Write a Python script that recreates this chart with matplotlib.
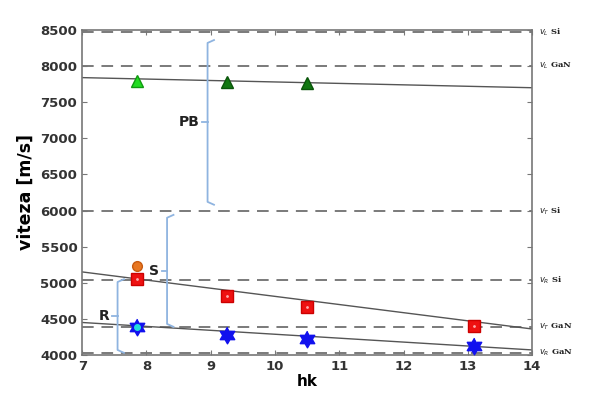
import numpy as np
import matplotlib
matplotlib.use('Agg')
import matplotlib.pyplot as plt

# reference velocities (dashed levels) and their labels
ref_levels = [8470, 8000, 5990, 5040, 4390, 4030]
ref_labels = [r'$v_L$ Si', r'$v_L$ GaN', r'$v_T$ Si', r'$v_R$ Si', r'$v_T$ GaN', r'$v_R$ GaN']

# fitted trend lines (end points at hk=7 and hk=14)
fit_x = [7, 14]
fit_pb = [7840, 7700]
fit_s = [5150, 4360]
fit_r = [4450, 4070]

# measured points
pb_x = [7.85, 9.25, 10.5]
pb_y = [7800, 7780, 7760]
s_x = [7.85, 9.25, 10.5, 13.1]
s_y = [5050, 4810, 4660, 4400]
r_x = [7.85, 9.25, 10.5, 13.1]
r_y = [4390, 4280, 4220, 4120]
o_x = [7.85]
o_y = [5230]

# braces: (x, y_lo, y_hi, label)
braces = [(8.95, 6080, 8360, 'PB'), (8.32, 4390, 5940, 'S'), (7.55, 4030, 5050, 'R')]

# six-pointed star marker shape
ang = np.radians(90 + 30 * np.arange(12))
rad = np.where(np.arange(12) % 2 == 0, 1.0, 0.577)
hexagram = list(zip(rad * np.cos(ang), rad * np.sin(ang)))

fig = plt.figure(figsize=(6, 3.94), dpi=100)
ax = fig.add_axes([0.137, 0.099, 0.75, 0.825])

for lv in ref_levels:
    ax.axhline(lv, color='#7a7a7a', lw=1.4, ls=(0, (6, 4)), zorder=1)

for yy in (fit_pb, fit_s, fit_r):
    ax.plot(fit_x, yy, color='#555555', lw=1.0, zorder=2)

ax.plot(pb_x[:1], pb_y[:1], '^', color='#22dd22', mec='#119911', ms=9, zorder=4)
ax.plot(pb_x[1:], pb_y[1:], '^', color='#117711', mec='#0a550a', ms=9, zorder=4)
ax.plot(s_x, s_y, 's', color='#ee1111', mec='#cc0000', ms=8, zorder=4)
ax.plot(s_x, s_y, '.', color='#ffaaaa', ms=2, zorder=5)
ax.plot(o_x, o_y, 'o', color='#e87722', mec='#c85a10', ms=7, zorder=4)
ax.plot(r_x, r_y, ls='none', marker=hexagram, color='#1111ee', mec='#1111ee', ms=12, zorder=4)
ax.plot(r_x[:1], r_y[:1], 'o', color='#22dddd', ms=4, zorder=5)

bc = '#8fb4e0'
for bx, lo, hi, lab in braces:
    mid = (lo + hi) / 2
    ax.plot([bx + 0.1, bx, bx, bx + 0.1], [hi, hi - 40, lo + 40, lo],
            color=bc, lw=1.3, zorder=3)
    ax.plot([bx, bx - 0.08], [mid, mid], color=bc, lw=1.3, zorder=3)
    ax.text(bx - 0.12, mid, lab, ha='right', va='center', fontsize=10,
            fontweight='bold', color='#222222')

ax.set_xlim(7, 14)
ax.set_ylim(4000, 8500)
ax.set_xticks(range(7, 15))
ax.set_yticks(range(4000, 8501, 500))
ax.tick_params(direction='in', top=True, right=True, labelsize=9.5, color='#777777')
for t in ax.get_xticklabels() + ax.get_yticklabels():
    t.set_fontweight('bold')
    t.set_color('#333333')
for sp in ax.spines.values():
    sp.set_color('#777777')
    sp.set_linewidth(1.2)

for lv, lab in zip(ref_levels, ref_labels):
    ax.text(14.1, lv, lab, ha='left', va='center', fontsize=6,
            family='DejaVu Serif', fontweight='bold', color='#222222')

ax.set_xlabel('hk', fontsize=11, fontweight='bold', labelpad=1)
ax.set_ylabel('viteza [m/s]', fontsize=12.5, fontweight='bold', labelpad=4)

fig.savefig('out.png', dpi=100, facecolor='white')
